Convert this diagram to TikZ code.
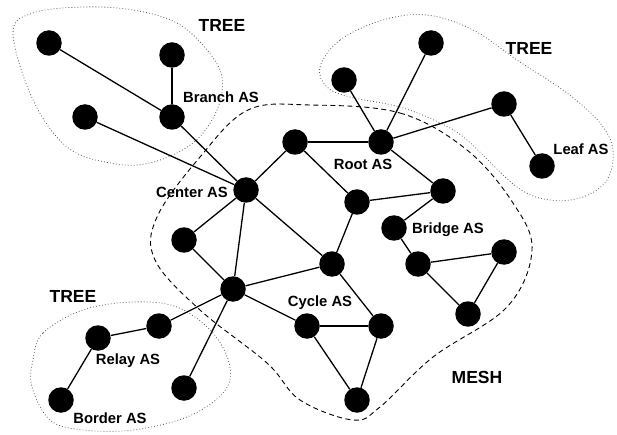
\documentclass[tikz,border=0pt]{standalone}
\usepackage{fontspec}
\setmainfont{Liberation Sans}
\usepackage{tikz}
\usetikzlibrary{positioning}

\tikzset{
  as/.style={circle,fill=black,minimum size=25.5pt,inner sep=0pt},
  aslabel/.style={font=\bfseries\fontsize{14.8}{15}\selectfont,inner sep=0pt},
  region/.style={font=\bfseries\fontsize{17.5}{18}\selectfont,inner sep=0pt},
  link/.style={line width=1.3pt},
  treeline/.style={gray!70!black,line width=0.8pt,dash pattern=on 0.8pt off 2.2pt},
  meshline/.style={line width=0.9pt,dash pattern=on 5pt off 3.5pt}
}

\begin{document}
\begin{tikzpicture}[x=1pt,y=-1pt]
  \useasboundingbox (0,0) rectangle (617,435);

  % boundaries
  \draw[meshline] plot[smooth cycle,tension=0.6] coordinates {(310,105) (400,113) (467,150) (513,203) (532,250) (507,307) (433,357) (380,407) (353,420) (300,400) (267,363) (200,310) (155,260) (157,217) (200,157) (248,110)};
  \draw[treeline] plot[smooth cycle,tension=0.6] coordinates {(13,33) (33,13) (83,7) (133,10) (177,23) (207,50) (222,77) (217,110) (193,143) (150,163) (110,163) (67,147) (33,100)};
  \draw[treeline] plot[smooth cycle,tension=0.6] coordinates {(320,67) (340,40) (383,20) (427,15) (473,30) (517,60) (567,93) (600,123) (613,150) (607,180) (583,197) (550,200) (517,187) (467,140) (440,123) (400,107) (350,97) (327,87)};
  \draw[treeline] plot[smooth cycle,tension=0.6] coordinates {(33,360) (43,333) (83,310) (133,302) (177,307) (213,333) (230,367) (223,393) (187,417) (133,430) (83,430) (50,420) (32,387)};

  % top left tree
  \node[as] (t1) at (49,43) {};
  \node[as] (t2) at (172,55) {};
  \node[as] (branch) at (172,117) {};
  \node[as] (t3) at (85,117) {};

  % mesh
  \node[as] (center) at (246,190) {};
  \node[as] (m1) at (295,142) {};
  \node[as] (root) at (381,142) {};
  \node[as] (m2) at (357,202) {};
  \node[as] (m3) at (443,191) {};
  \node[as] (m4) at (184,240) {};
  \node[as] (hub) at (233,289) {};
  \node[as] (m5) at (332,264) {};
  \node[as] (bridge) at (394,228) {};
  \node[as] (m6) at (418,264) {};
  \node[as] (m7) at (504,252) {};
  \node[as] (m8) at (468,314) {};
  \node[as] (cycle) at (307,326) {};
  \node[as] (m9) at (381,326) {};
  \node[as] (m10) at (357,400) {};

  % top right tree
  \node[as] (r1) at (344,80) {};
  \node[as] (r2) at (431,43) {};
  \node[as] (r3) at (504,104) {};
  \node[as] (leaf) at (542,166) {};

  % bottom left tree
  \node[as] (b1) at (159,326) {};
  \node[as] (relay) at (98,338) {};
  \node[as] (border) at (61,400) {};
  \node[as] (b2) at (184,388) {};

  % links
  \draw[link] (t1) -- (branch);
  \draw[link] (t2) -- (branch);
  \draw[link] (branch) -- (center);
  \draw[link] (t3) -- (center);
  \draw[link] (center) -- (m1);
  \draw[link] (center) -- (m4);
  \draw[link] (center) -- (hub);
  \draw[link] (center) -- (m5);
  \draw[link] (m1) -- (root);
  \draw[link] (m1) -- (m2);
  \draw[link] (root) -- (r1);
  \draw[link] (root) -- (r2);
  \draw[link] (root) -- (r3);
  \draw[link] (r3) -- (leaf);
  \draw[link] (root) -- (m3);
  \draw[link] (m3) -- (m2);
  \draw[link] (m3) -- (bridge);
  \draw[link] (m2) -- (m5);
  \draw[link] (bridge) -- (m6);
  \draw[link] (m6) -- (m7);
  \draw[link] (m6) -- (m8);
  \draw[link] (m8) -- (m7);
  \draw[link] (m4) -- (hub);
  \draw[link] (hub) -- (m5);
  \draw[link] (hub) -- (cycle);
  \draw[link] (hub) -- (b1);
  \draw[link] (hub) -- (b2);
  \draw[link] (m5) -- (m9);
  \draw[link] (cycle) -- (m9);
  \draw[link] (cycle) -- (m10);
  \draw[link] (m9) -- (m10);
  \draw[link] (b1) -- (relay);
  \draw[link] (relay) -- (border);

  % labels
  \node[region] (treeA) at (222,25) {TREE};
  \node[region] (treeB) at (529,48) {TREE};
  \node[region] (treeC) at (73,296) {TREE};
  \node[region] (meshlbl) at (477,377) {MESH};
  \node[aslabel] (branchlbl) at (221,97) {Branch AS};
  \node[aslabel] (centerlbl) at (192,192) {Center AS};
  \node[aslabel] (rootlbl) at (363,164) {Root AS};
  \node[aslabel] (leaflbl) at (581,149) {Leaf AS};
  \node[aslabel] (bridgelbl) at (448,230) {Bridge AS};
  \node[aslabel] (cyclelbl) at (320,303) {Cycle AS};
  \node[aslabel] (relaylbl) at (128,361) {Relay AS};
  \node[aslabel] (borderlbl) at (110,418) {Border AS};
\end{tikzpicture}
\end{document}
